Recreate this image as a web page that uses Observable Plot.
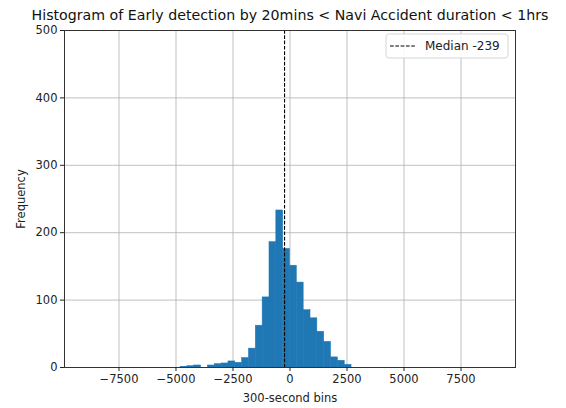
<!DOCTYPE html>
<html>
<head>
<meta charset="utf-8">
<script src="https://cdn.jsdelivr.net/npm/d3@7"></script>
<script src="https://cdn.jsdelivr.net/npm/@observablehq/plot@0.6"></script>
<style>
  html, body { margin: 0; padding: 0; background: white; }
</style>
</head>
<body>
<div id="chart"></div>
<script>
const titleText = "Histogram of Early detection by 20mins < Navi Accident duration < 1hrs";
const binStarts = [-4800, -4500, -4200, -3900, -3600, -3300, -3000, -2700, -2400, -2100, -1800, -1500, -1200, -900, -600, -300, 0, 300, 600, 900, 1200, 1500, 1800, 2100, 2400];
const counts    = [1, 2, 3, 0, 3, 5, 6, 9, 7, 14, 28, 62, 104, 186, 233, 176, 151, 126, 85, 73, 53, 38, 15, 10, 4];
const binWidth = 300;
const median = -239;
const xTicks = [-7500, -5000, -2500, 0, 2500, 5000, 7500];
const yTicks = [0, 100, 200, 300, 400, 500];

const bins = binStarts.map((s, i) => ({x1: s, x2: s + binWidth, count: counts[i]}));

const W = 566, H = 408, mL = 64, mR = 51, mT = 30, mB = 41;

const chart = Plot.plot({
  width: W, height: H,
  marginLeft: mL, marginRight: mR, marginTop: mT, marginBottom: mB,
  style: {fontFamily: "DejaVu Sans", fontSize: "11.5px", color: "#222", background: "white"},
  x: {domain: [-9890, 9890]},
  y: {domain: [0, 500]},
  marks: [
    Plot.gridX(xTicks, {stroke: "#b0b0b0", strokeOpacity: 1, strokeWidth: 0.8}),
    Plot.gridY(yTicks, {stroke: "#b0b0b0", strokeOpacity: 1, strokeWidth: 0.8}),
    Plot.rectY(bins, {x1: "x1", x2: "x2", y: "count", fill: "#1f77b4", inset: 0, stroke: "#1f77b4", strokeWidth: 0.5}),
    Plot.ruleX([median], {stroke: "black", strokeWidth: 1.1, strokeDasharray: "3.7,1.6"}),
    Plot.frame({stroke: "#333", strokeWidth: 1}),
    Plot.axisX(xTicks, {tickFormat: d3.format("d"), tickSize: 4, tickPadding: 3,
      label: "300-second bins", labelAnchor: "center", labelArrow: "none", labelOffset: 34}),
    Plot.axisY(yTicks, {tickFormat: d3.format("d"), tickSize: 4, tickPadding: 3,
      label: "Frequency", labelAnchor: "center", labelArrow: "none", labelOffset: 48}),
    Plot.text([titleText], {frameAnchor: "top", lineAnchor: "middle", dy: -15.5, fontSize: 14.2, fill: "#111"})
  ]
});

// legend box (top-right, inside frame)
const svg = d3.select(chart);
const lx = W - mR - 129, ly = mT + 4, lw = 122, lh = 24;
const g = svg.append("g");
g.append("rect").attr("x", lx).attr("y", ly).attr("width", lw).attr("height", lh)
  .attr("rx", 3).attr("fill", "white").attr("fill-opacity", 0.85)
  .attr("stroke", "#d6d6d6").attr("stroke-width", 1);
g.append("line").attr("x1", lx + 4).attr("x2", lx + 29).attr("y1", ly + lh / 2).attr("y2", ly + lh / 2)
  .attr("stroke", "black").attr("stroke-width", 1.1).attr("stroke-dasharray", "3.7,1.6");
g.append("text").attr("x", lx + 39).attr("y", ly + lh / 2).attr("dy", "0.35em")
  .attr("text-anchor", "start")
  .attr("font-size", 12).attr("fill", "#222").text("Median " + median);

document.getElementById("chart").appendChild(chart);
</script>
</body>
</html>
